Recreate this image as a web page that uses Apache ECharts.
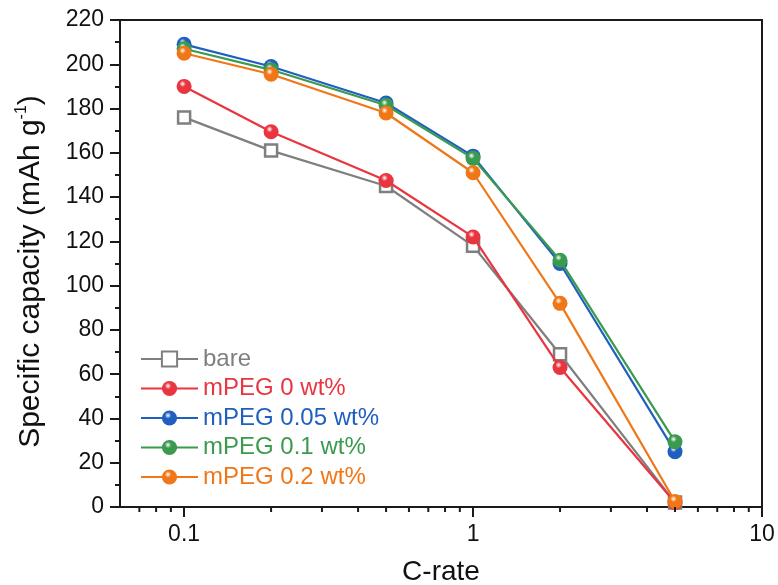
<!DOCTYPE html>
<html>
<head>
<meta charset="utf-8">
<script src="https://cdn.jsdelivr.net/npm/echarts@6/dist/echarts.min.js"></script>
<style>
html,body{margin:0;padding:0;background:#fff;}
#c{width:778px;height:585px;}
</style>
</head>
<body>
<div id="c"></div>
<script>
// ---- data ----
const cRates = [0.1, 0.2, 0.5, 1, 2, 5];
const seriesNames = ['bare', 'mPEG 0 wt%', 'mPEG 0.05 wt%', 'mPEG 0.1 wt%', 'mPEG 0.2 wt%'];
const bare    = [176, 161, 145, 118, 69, 2];
const mPEG0   = [190, 169.5, 147.5, 122, 63, 2];
const mPEG005 = [209, 199, 182.5, 158.5, 110, 25];
const mPEG01  = [207, 197.5, 181.5, 157.5, 111.5, 29.5];
const mPEG02  = [205, 195.5, 178, 151, 92, 2.5];
const xMinorTicks = [0.07, 0.08, 0.09, 0.2, 0.3, 0.4, 0.5, 0.6, 0.7, 0.8, 0.9, 2, 3, 4, 5, 6, 7, 8, 9];
const xTickLabels = [0.1, 1, 10];
const yTickLabels = [0, 20, 40, 60, 80, 100, 120, 140, 160, 180, 200, 220];

const colors = ['#7f7f7f', '#e8353f', '#1f5fc0', '#3a9a4e', '#f07718'];
const FONT = 'Liberation Sans, Arial, sans-serif';

function sphere(c) {
  return {
    type: 'radial', x: 0.4, y: 0.33, r: 0.72,
    colorStops: [
      {offset: 0, color: '#ffffff'},
      {offset: 0.3, color: c},
      {offset: 1, color: c}
    ]
  };
}

const allData = [bare, mPEG0, mPEG005, mPEG01, mPEG02];
const series = allData.map((arr, i) => {
  const s = {
    name: seriesNames[i],
    type: 'line',
    data: cRates.map((x, j) => [x, arr[j]]),
    lineStyle: {color: colors[i], width: 2.2},
    symbolSize: 15,
    symbol: 'circle',
    itemStyle: {color: sphere(colors[i])},
    z: 2 + i
  };
  if (i === 0) {
    s.symbol = 'rect';
    s.symbolSize = 12;
    s.itemStyle = {color: '#ffffff', borderColor: colors[0], borderWidth: 2.5};
  }
  return s;
});

series.push({
  type: 'custom',
  name: 'minorTicks',
  clip: false,
  silent: true,
  data: xMinorTicks.map(v => [v, 0]),
  encode: {x: 0, y: 1},
  renderItem: function (params, api) {
    const p = api.coord([api.value(0), 0]);
    return {
      type: 'line',
      shape: {x1: p[0], y1: p[1], x2: p[0], y2: p[1] + 5},
      style: {stroke: '#1a1a1a', lineWidth: 2}
    };
  },
  z: 10
});

const chart = echarts.init(document.getElementById('c'), null, {renderer: 'canvas'});
chart.setOption({
  animation: false,
  backgroundColor: '#ffffff',
  grid: {left: 120, right: 16, top: 20, bottom: 78, outerBoundsMode: 'none', containLabel: false,
    show: true, borderColor: '#1a1a1a', borderWidth: 2, backgroundColor: 'transparent'},
  legend: {
    orient: 'vertical',
    left: 140, top: 347, padding: 0,
    itemWidth: 57, itemHeight: 19,
    itemGap: 5.5,
    data: seriesNames.map((n, i) => ({name: n, textStyle: {color: colors[i]}})),
    textStyle: {fontFamily: FONT, fontSize: 24, lineHeight: 24, padding: [0, 0, 0, 0]}
  },
  xAxis: {
    type: 'log', logBase: 10, min: 0.06, max: 10,
    name: 'C-rate', nameLocation: 'middle', nameGap: 51,
    nameTextStyle: {fontFamily: FONT, fontSize: 28, color: '#111'},
    axisLine: {lineStyle: {color: '#1a1a1a', width: 2}},
    axisTick: {length: 10, lineStyle: {width: 2, color: '#1a1a1a'}},
    axisLabel: {showMinLabel: false, margin: 16, fontFamily: FONT, fontSize: 23, color: '#111',
      formatter: function (v) { return xTickLabels.some(t => Math.abs(t - v) < 1e-9) ? String(v) : ''; }},
    splitLine: {show: false}
  },
  yAxis: {
    type: 'value', min: 0, max: 220, interval: 20,
    name: '{a|Specific capacity (mAh g}{s|-1}{a|)}', nameLocation: 'middle', nameGap: 72, nameRotate: 90,
    nameTextStyle: {fontFamily: FONT, fontSize: 30, color: '#111', padding: [0, 16, 0, 0],
      rich: {
        a: {fontFamily: FONT, fontSize: 30, color: '#111', lineHeight: 34},
        s: {fontFamily: FONT, fontSize: 16, color: '#111', verticalAlign: 'top', lineHeight: 34, padding: [0, 0, 12, 0]}
      }},
    axisLine: {show: true, lineStyle: {color: '#1a1a1a', width: 2}},
    axisTick: {length: 10, lineStyle: {width: 2, color: '#1a1a1a'}},
    minorTick: {show: true, splitNumber: 2, length: 5, lineStyle: {width: 2, color: '#1a1a1a'}},
    axisLabel: {margin: 16, fontFamily: FONT, fontSize: 23, color: '#111',
      formatter: function (v) { return yTickLabels.indexOf(v) >= 0 ? String(v) : ''; }},
    splitLine: {show: false}
  },
  series: series
});
</script>
</body>
</html>
